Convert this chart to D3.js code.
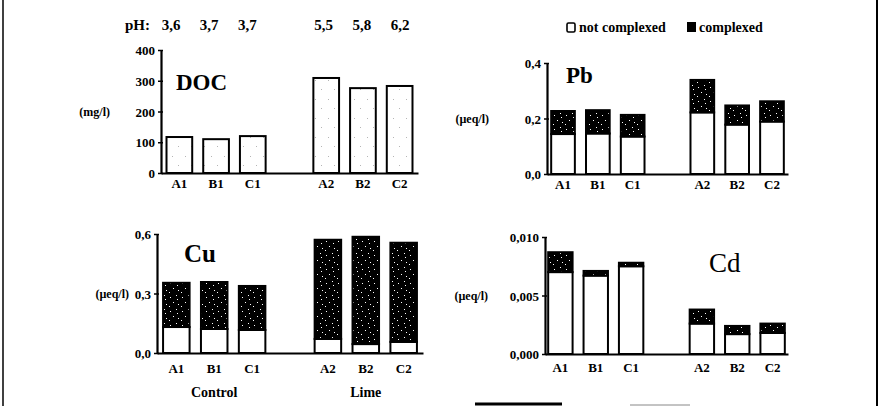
<!DOCTYPE html>
<html>
<head>
<meta charset="utf-8">
<script src="https://cdn.jsdelivr.net/npm/d3@7"></script>
<style>
  html, body { margin: 0; padding: 0; background: #fff; }
  svg { display: block; }
  text { font-family: "Liberation Serif", "Times New Roman", serif; font-weight: bold; fill: #000; }
</style>
</head>
<body>
<svg id="chart" width="880" height="406"></svg>
<script>
// ---- data ----
const categories = ["A1", "B1", "C1", "A2", "B2", "C2"];
const slots = ["A1", "B1", "C1", "gap", "A2", "B2", "C2"];
const phLabels = ["3,6", "3,7", "3,7", "5,5", "5,8", "6,2"];
const groupLabels = ["Control", "Lime"];
const legendLabels = ["not complexed", "complexed"];

// DOC (mg/l)
const docValues = [117, 110, 120, 309, 276, 283];
const docTicks = [0, 100, 200, 300, 400];
const docTickLabels = ["0", "100", "200", "300", "400"];

// Pb (µeq/l)
const pbFree = [0.144, 0.146, 0.135, 0.222, 0.178, 0.189];
const pbComplexed = [0.083, 0.084, 0.078, 0.117, 0.069, 0.073];
const pbTicks = [0, 0.2, 0.4];
const pbTickLabels = ["0,0", "0,2", "0,4"];

// Cu (µeq/l)
const cuFree = [0.131, 0.121, 0.116, 0.071, 0.045, 0.056];
const cuComplexed = [0.223, 0.237, 0.222, 0.500, 0.541, 0.500];
const cuTicks = [0, 0.3, 0.6];
const cuTickLabels = ["0,0", "0,3", "0,6"];

// Cd (µeq/l)
const cdFree = [0.0070, 0.0067, 0.0075, 0.0026, 0.0017, 0.0018];
const cdComplexed = [0.0017, 0.0004, 0.0003, 0.0012, 0.0007, 0.0008];
const cdTicks = [0, 0.005, 0.010];
const cdTickLabels = ["0,000", "0,005", "0,010"];

// ---- drawing ----
const svg = d3.select("#chart");
const defs = svg.append("defs");

// stippled black fill for the complexed fraction
const pc = defs.append("pattern").attr("id", "stippleDark")
  .attr("patternUnits", "userSpaceOnUse").attr("width", 12).attr("height", 14);
pc.append("rect").attr("width", 12).attr("height", 14).attr("fill", "#000");
[[2, 3], [8, 1], [5, 8], [10, 10], [1, 12], [9, 5]].forEach(([x, y]) =>
  pc.append("rect").attr("x", x).attr("y", y).attr("width", 1).attr("height", 1).attr("fill", "#fff"));

// faint speckle for the DOC bars
const pd = defs.append("pattern").attr("id", "stippleLight")
  .attr("patternUnits", "userSpaceOnUse").attr("width", 13).attr("height", 19);
pd.append("rect").attr("width", 13).attr("height", 19).attr("fill", "#fff");
[[3, 4], [9, 13]].forEach(([x, y]) =>
  pd.append("rect").attr("x", x).attr("y", y).attr("width", 1).attr("height", 1).attr("fill", "#b5b5b5"));

function panel(cfg) {
  const x = d3.scaleBand().domain(slots)
    .range([cfg.axisX, cfg.endX])
    .paddingInner(cfg.pi).paddingOuter(cfg.po);
  const y = d3.scaleLinear().domain([0, cfg.max]).range([cfg.y0, cfg.yTop]);
  const g = svg.append("g");

  // bars
  categories.forEach((c, i) => {
    const free = cfg.free[i];
    const comp = cfg.comp ? cfg.comp[i] : 0;
    const bx = x(c), bw = x.bandwidth();
    g.append("rect")
      .attr("x", bx).attr("y", y(free))
      .attr("width", bw).attr("height", y(0) - y(free))
      .attr("fill", cfg.freeFill || "#fff")
      .attr("stroke", "#000").attr("stroke-width", 2);
    if (cfg.comp) {
      g.append("rect")
        .attr("x", bx).attr("y", y(free + comp))
        .attr("width", bw).attr("height", y(free) - y(free + comp))
        .attr("fill", "url(#stippleDark)")
        .attr("stroke", "#000").attr("stroke-width", 2);
    }
  });

  // x baseline + category labels
  const xa = g.append("g").attr("transform", `translate(0,${cfg.y0})`)
    .call(d3.axisBottom(x).tickSize(0).tickSizeOuter(0)
      .tickFormat(d => d === "gap" ? "" : d));
  xa.select(".domain").attr("stroke", "#000").attr("stroke-width", 2.2);
  xa.selectAll(".tick text")
    .attr("dy", null).attr("y", cfg.catDy)
    .style("font-family", "\"Liberation Serif\", serif")
    .style("font-weight", "bold").style("font-size", "13px");

  // y axis
  const ya = g.append("g").attr("transform", `translate(${cfg.axisX},0)`)
    .call(d3.axisLeft(y).tickValues(cfg.ticks).tickSize(3).tickSizeOuter(0)
      .tickFormat((d, i) => cfg.tickLabels[i]));
  ya.select(".domain").attr("stroke", "#000").attr("stroke-width", 2.2);
  ya.selectAll(".tick line").attr("stroke-width", 1.5).attr("x2", 2).attr("x1", -3);
  ya.selectAll(".tick text")
    .attr("x", -6).attr("dy", "0.35em")
    .style("font-family", "\"Liberation Serif\", serif")
    .style("font-weight", "bold").style("font-size", cfg.tickSize || "13px");

  // unit label
  g.append("text").attr("x", cfg.unitX).attr("y", y(cfg.ticks[cfg.unitTick]) + 4)
    .attr("text-anchor", "end").style("font-size", "12px").text(cfg.unit);

  // element / quantity name
  g.append("text").attr("x", cfg.titleX).attr("y", cfg.titleY)
    .style("font-size", cfg.titleSize)
    .style("font-weight", cfg.titleWeight || "bold")
    .text(cfg.title);

  return x;
}

const xDoc = panel({
  axisX: 161, endX: 418, pi: 0.3, po: 0.15, y0: 173, yTop: 50, max: 400,
  free: docValues, freeFill: "url(#stippleLight)",
  ticks: docTicks, tickLabels: docTickLabels,
  unit: "(mg/l)", unitX: 110, unitTick: 2,
  title: "DOC", titleX: 176, titleY: 90, titleSize: "23px", catDy: 15
});

panel({
  axisX: 547, endX: 788, pi: 0.32, po: 0.12, y0: 174, yTop: 63, max: 0.4,
  free: pbFree, comp: pbComplexed,
  ticks: pbTicks, tickLabels: pbTickLabels,
  unit: "(µeq/l)", unitX: 489, unitTick: 1,
  title: "Pb", titleX: 566, titleY: 83, titleSize: "23px", catDy: 15
});

const xCu = panel({
  axisX: 157, endX: 423, pi: 0.3, po: 0.16, y0: 353, yTop: 234, max: 0.6,
  free: cuFree, comp: cuComplexed,
  ticks: cuTicks, tickLabels: cuTickLabels,
  unit: "(µeq/l)", unitX: 129, unitTick: 1,
  title: "Cu", titleX: 184, titleY: 262, titleSize: "25px", catDy: 20
});

panel({
  axisX: 545, endX: 788, pi: 0.31, po: 0.09, y0: 354, yTop: 237, max: 0.010,
  free: cdFree, comp: cdComplexed,
  ticks: cdTicks, tickLabels: cdTickLabels,
  unit: "(µeq/l)", unitX: 488, unitTick: 1,
  title: "Cd", titleX: 709, titleY: 272, titleSize: "27px", titleWeight: "normal", catDy: 18
});

// pH row above the DOC panel
const xPh = d3.scalePoint().domain(slots).range([171, 400]);
svg.append("text").attr("x", 150).attr("y", 30).attr("text-anchor", "end")
  .style("font-size", "15px").text("pH:");
svg.selectAll(".ph").data(categories).join("text")
  .attr("class", "ph")
  .attr("x", (d, i) => xPh(d)).attr("y", 30)
  .attr("text-anchor", "middle").style("font-size", "15px")
  .text((d, i) => phLabels[i]);

// treatment group labels under the Cu panel
const groupCenters = [
  (xCu("A1") + xCu("C1") + xCu.bandwidth()) / 2,
  (xCu("A2") + xCu("C2") + xCu.bandwidth()) / 2
];
svg.selectAll(".grp").data(groupLabels).join("text")
  .attr("class", "grp")
  .attr("x", (d, i) => groupCenters[i]).attr("y", 397)
  .attr("text-anchor", "middle").style("font-size", "14px")
  .text(d => d);

// legend
const lg = svg.append("g");
lg.append("rect").attr("x", 567).attr("y", 23).attr("width", 8).attr("height", 9).attr("rx", 1.5)
  .attr("fill", "#fff").attr("stroke", "#000").attr("stroke-width", 1.6);
lg.append("text").attr("x", 579).attr("y", 32).style("font-size", "14px").text(legendLabels[0]);
lg.append("rect").attr("x", 687).attr("y", 22).attr("width", 9).attr("height", 10).attr("fill", "#000");
lg.append("text").attr("x", 699).attr("y", 32).style("font-size", "14px").text(legendLabels[1]);

// figure frame
svg.append("line").attr("x1", 3).attr("x2", 3).attr("y1", 0).attr("y2", 406)
  .attr("stroke", "#000").attr("stroke-width", 1.5);
svg.append("line").attr("x1", 877).attr("x2", 877).attr("y1", 0).attr("y2", 406)
  .attr("stroke", "#000").attr("stroke-width", 2);
svg.append("line").attr("x1", 475).attr("x2", 562).attr("y1", 404).attr("y2", 404)
  .attr("stroke", "#000").attr("stroke-width", 3);
svg.append("line").attr("x1", 630).attr("x2", 690).attr("y1", 405).attr("y2", 405)
  .attr("stroke", "#888").attr("stroke-width", 1);
</script>
</body>
</html>
